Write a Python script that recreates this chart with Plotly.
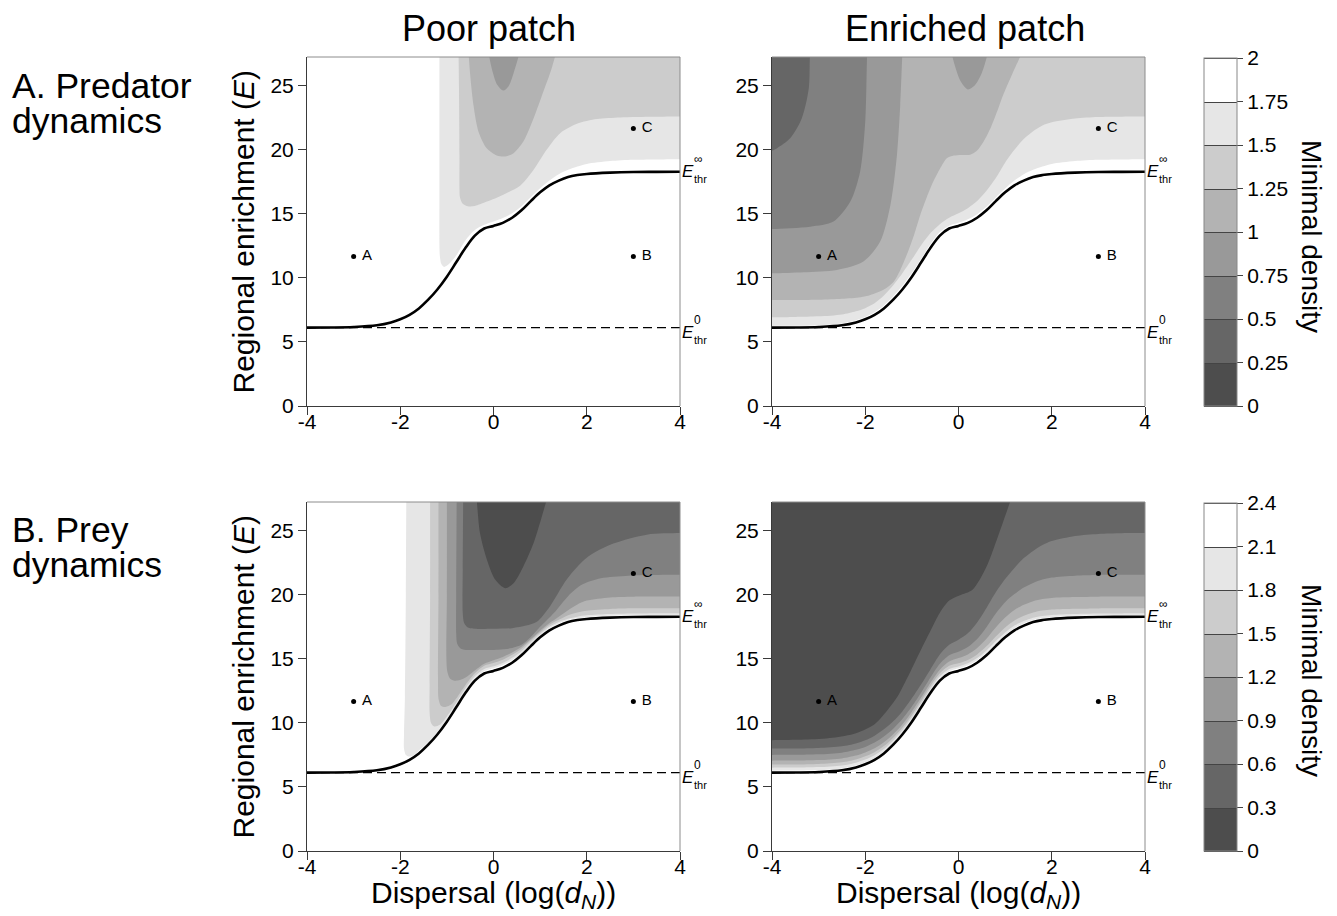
import plotly.graph_objects as go

# ---------------------------------------------------------------- data
X_RANGE = [-4, 4]
Y_RANGE = [0, 27.25]
X_TICKS = [-4, -2, 0, 2, 4]
X_TICKTEXT = ["-4", "-2", "0", "2", "4"]
Y_TICKS = [0, 5, 10, 15, 20, 25]

E_THR_0 = 6.12
E_THR_INF = 18.29

THR_X = [-4.0, -3.5, -3.0, -2.5, -2.2, -2.0, -1.8, -1.6, -1.4, -1.2, -1.0, -0.8, -0.6, -0.4, -0.2,
         0.0, 0.2, 0.4, 0.6, 0.8, 1.0, 1.2, 1.4, 1.6, 1.8, 2.0, 2.5, 3.0, 3.5, 4.0]
THR_Y = [6.12, 6.13, 6.17, 6.3, 6.52, 6.77, 7.12, 7.62, 8.3, 9.12, 10.1, 11.22, 12.35, 13.3, 13.86,
         14.06, 14.3, 14.7, 15.28, 16.0, 16.68, 17.23, 17.6, 17.88, 18.03, 18.12, 18.22, 18.27, 18.28, 18.29]

PT_X = [-3, 3, 3]
PT_Y = [11.67, 11.67, 21.67]
PT_LABEL = ["A", "B", "C"]

GRAYS = ["#4d4d4d", "#666666", "#808080", "#999999", "#b3b3b3", "#cccccc", "#e6e6e6", "#ffffff"]

PRED_LEVELS = [0, 0.25, 0.5, 0.75, 1, 1.25, 1.5, 1.75, 2]
PRED_TICKTEXT = ["0", "0.25", "0.5", "0.75", "1", "1.25", "1.5", "1.75", "2"]
PREY_LEVELS = [0, 0.3, 0.6, 0.9, 1.2, 1.5, 1.8, 2.1, 2.4]
PREY_TICKTEXT = ["0", "0.3", "0.6", "0.9", "1.2", "1.5", "1.8", "2.1", "2.4"]

# --- predator, poor patch: boundaries of the regions "density below level"
TL_LT175_X = [-1.16, -1.16, -1.16, -1.16, -1.15, -1.12, -1.06, -0.95, -0.8, -0.6, -0.4, -0.2, 0.0, 0.2, 0.4,
              0.6, 0.8, 1.0, 1.2, 1.4, 1.6, 1.8, 2.0, 2.5, 3.0, 4.0]
TL_LT175_Y = [28.0, 22.0, 16.0, 12.6, 11.7, 11.1, 10.85, 11.1, 11.75, 12.95, 13.75, 14.15, 14.4, 14.68, 15.05,
              15.6, 16.3, 17.0, 17.6, 18.1, 18.45, 18.7, 18.9, 19.12, 19.22, 19.27]
TL_LT150_X = [-0.75, -0.74, -0.73, -0.73, -0.72, -0.66, -0.55, -0.4, -0.14, 0.21, 0.57, 0.86, 1.14, 1.43,
              1.79, 2.22, 2.72, 3.43, 4.0]
TL_LT150_Y = [28.0, 24.8, 19.6, 17.0, 16.3, 15.8, 15.6, 15.62, 15.96, 16.5, 17.19, 18.44, 20.0, 21.3,
              22.03, 22.4, 22.53, 22.58, 22.6]
TL_LT125_X = [-0.54, -0.5, -0.43, -0.32, -0.14, 0.07, 0.25, 0.43, 0.64, 0.86, 1.07, 1.25, 1.36]
TL_LT125_Y = [28.0, 25.86, 23.5, 21.4, 20.1, 19.56, 19.48, 19.74, 20.65, 22.47, 24.56, 26.4, 28.0]
TL_LT100_X = [-0.12, -0.04, 0.08, 0.21, 0.32, 0.43, 0.58]
TL_LT100_Y = [28.0, 26.4, 25.08, 24.63, 24.95, 25.99, 28.0]

# --- predator, enriched patch
TR_LT175_X = THR_X[:-2] + [4.0]
TR_LT175_Y = [6.25, 6.26, 6.31, 6.45, 6.69, 6.95, 7.32, 7.85, 8.56, 9.4, 10.4, 11.5, 12.65, 13.58, 14.08,
              14.3, 14.58, 14.98, 15.55, 16.28, 16.98, 17.6, 18.1, 18.45, 18.7, 18.9, 19.12, 19.22, 19.27]
TR_LT150_X = THR_X[:-2] + [4.0]
TR_LT150_Y = [6.93, 6.95, 7.0, 7.15, 7.4, 7.64, 8.02, 8.62, 9.42, 10.38, 11.45, 12.55, 13.5, 14.2, 14.7,
              15.05, 15.45, 16.0, 16.8, 17.8, 19.0, 20.0, 20.85, 21.45, 21.9, 22.15, 22.45, 22.56, 22.6]
TR_LT125_X = [-4.0, -3.0, -2.5, -2.1, -1.89, -1.6, -1.39, -1.25, -1.11, -0.95, -0.82, -0.68, -0.54, -0.4,
              -0.25, -0.1, 0.05, 0.25, 0.4, 0.54, 0.7, 0.85, 0.96, 1.15, 1.3, 1.45]
TR_LT125_Y = [8.28, 8.3, 8.38, 8.5, 8.67, 9.1, 9.71, 10.6, 11.8, 13.4, 14.92, 16.3, 17.52, 18.5,
              19.35, 19.55, 19.6, 19.62, 19.95, 20.65, 21.8, 23.2, 24.3, 25.9, 27.1, 28.3]
TR_LT100_X = [-1.2, -1.21, -1.25, -1.32, -1.46, -1.68, -2.04, -2.61, -3.32, -4.0]
TR_LT100_Y = [28.0, 27.0, 23.5, 19.6, 15.7, 12.84, 11.28, 10.62, 10.44, 10.36]
TR_LT100V_X = [-0.17, -0.08, 0.04, 0.2, 0.35, 0.5, 0.65]
TR_LT100V_Y = [28.0, 26.6, 25.4, 24.72, 25.05, 26.0, 28.0]
TR_LT075_X = [-1.96, -1.97, -2.0, -2.11, -2.32, -2.68, -3.18, -4.0]
TR_LT075_Y = [28.0, 26.0, 22.21, 18.3, 15.96, 14.4, 14.0, 13.82]
TR_LT050_X = [-3.18, -3.19, -3.21, -3.36, -3.61, -3.89, -4.0]
TR_LT050_Y = [28.0, 27.0, 24.82, 22.47, 20.9, 20.13, 19.95]

# --- prey, poor patch
BL_LT210_X = [-1.87, -1.88, -1.9, -1.92, -1.92, -1.88, -1.8, -1.7, -1.6, -1.4, -1.2, -1.0, -0.8, -0.6, -0.4,
              -0.2, 0.0, 0.2, 0.4, 0.6, 0.8, 1.0, 1.2, 1.4, 1.6, 1.8, 2.0, 2.5, 3.0, 4.0]
BL_LT210_Y = [28.0, 20.0, 12.0, 9.0, 8.0, 7.5, 7.37, 7.5, 7.85, 8.5, 9.32, 10.3, 11.4, 12.52, 13.48,
              14.05, 14.27, 14.52, 14.92, 15.45, 16.17, 16.84, 17.4, 17.76, 18.03, 18.17, 18.26, 18.36, 18.41, 18.43]
BL_LT180_X = [-1.36, -1.36, -1.37, -1.37, -1.34, -1.27, -1.15, -1.0, -0.8, -0.6, -0.4, -0.2, 0.0, 0.2, 0.4,
              0.6, 0.8, 1.0, 1.2, 1.4, 1.6, 1.8, 2.0, 2.5, 3.0, 4.0]
BL_LT180_Y = [28.0, 20.0, 13.0, 10.8, 10.0, 9.72, 9.85, 10.5, 11.57, 12.72, 13.66, 14.22, 14.42, 14.68, 15.08,
              15.6, 16.3, 16.95, 17.5, 17.88, 18.13, 18.3, 18.4, 18.5, 18.54, 18.56]
BL_LT150_X = [-1.18, -1.18, -1.19, -1.18, -1.13, -1.03, -0.9, -0.8, -0.6, -0.4, -0.2, 0.0, 0.2, 0.4, 0.6,
              0.8, 1.0, 1.2, 1.4, 1.6, 1.8, 2.0, 2.5, 3.0, 4.0]
BL_LT150_Y = [28.0, 20.0, 13.0, 11.9, 11.35, 11.25, 11.45, 11.9, 12.97, 13.88, 14.46, 14.67, 14.93, 15.32, 15.8,
              16.45, 17.08, 17.66, 18.05, 18.4, 18.62, 18.76, 18.9, 18.95, 18.96]
BL_LT120_X = [-1.0, -1.0, -1.01, -0.99, -0.93, -0.83, -0.72, -0.6, -0.4, -0.2, 0.0, 0.2, 0.4, 0.6, 0.8,
              1.0, 1.2, 1.4, 1.6, 1.8, 2.0, 2.5, 3.0, 4.0]
BL_LT120_Y = [28.0, 20.0, 15.0, 14.0, 13.45, 13.3, 13.35, 13.55, 14.1, 14.62, 14.9, 15.15, 15.5, 15.95, 16.55,
              17.2, 17.8, 18.3, 18.8, 19.25, 19.55, 19.8, 19.86, 19.87]
BL_LT090_X = [-0.79, -0.8, -0.8, -0.78, -0.7, -0.55, -0.3, 0.1, 0.4, 0.6, 0.8, 1.0, 1.3, 1.6, 1.9, 2.3, 2.9, 4.0]
BL_LT090_Y = [28.0, 20.0, 17.0, 16.2, 15.8, 15.7, 15.7, 15.72, 15.85, 16.1, 16.7, 17.5, 18.6, 19.9, 20.8, 21.3,
              21.5, 21.56]
BL_LT060_X = [-0.65, -0.66, -0.66, -0.63, -0.55, -0.4, 0.0, 0.4, 0.7, 0.93, 1.21, 1.57, 2.0, 2.57, 3.29, 4.0]
BL_LT060_Y = [28.0, 22.0, 18.6, 17.8, 17.45, 17.35, 17.35, 17.4, 17.6, 17.9, 19.1, 21.2, 22.9, 24.0, 24.7, 24.82]
BL_LT030_X = [-0.37, -0.35, -0.29, -0.14, 0.04, 0.25, 0.43, 0.64, 0.86, 1.14, 1.19]
BL_LT030_Y = [28.0, 27.0, 24.82, 22.73, 21.17, 20.52, 20.9, 22.21, 24.04, 27.4, 28.0]

# --- prey, enriched patch (boundaries sampled on the threshold-curve x grid)
BR_GRID_X = THR_X
BR_LT210_Y = [6.27, 6.28, 6.32, 6.45, 6.67, 6.92, 7.27, 7.77, 8.45, 9.27, 10.25, 11.37, 12.5, 13.46, 14.04,
              14.26, 14.50, 14.90, 15.47, 16.19, 16.86, 17.4, 17.76, 18.03, 18.17, 18.26, 18.36, 18.41, 18.42, 18.43]
BR_LT180_Y = [6.50, 6.51, 6.55, 6.68, 6.9, 7.14, 7.48, 7.96, 8.63, 9.44, 10.42, 11.53, 12.67, 13.64, 14.22,
              14.41, 14.66, 15.07, 15.66, 16.39, 17.06, 17.6, 17.95, 18.21, 18.35, 18.43, 18.50, 18.54, 18.55, 18.56]
BR_LT150_Y = [6.75, 6.76, 6.80, 6.93, 7.15, 7.39, 7.72, 8.19, 8.85, 9.64, 10.62, 11.73, 12.88, 13.87, 14.46,
              14.66, 14.92, 15.35, 15.98, 16.75, 17.46, 18.0, 18.36, 18.62, 18.77, 18.85, 18.91, 18.94, 18.95, 18.96]
BR_LT120_Y = [7.05, 7.06, 7.10, 7.23, 7.45, 7.69, 8.02, 8.49, 9.12, 9.9, 10.88, 11.98, 13.14, 14.16, 14.79,
              15.06, 15.35, 15.85, 16.58, 17.45, 18.23, 18.82, 19.22, 19.5, 19.67, 19.76, 19.83, 19.86, 19.87, 19.87]
BR_LT090_Y = [7.50, 7.51, 7.55, 7.68, 7.9, 8.13, 8.47, 8.94, 9.55, 10.32, 11.28, 12.38, 13.55, 14.62, 15.29,
              15.56, 15.92, 16.55, 17.48, 18.55, 19.43, 20.06, 20.57, 20.93, 21.19, 21.35, 21.50, 21.55, 21.56, 21.56]
BR_LT060_Y = [8.00, 8.01, 8.05, 8.18, 8.4, 8.64, 9.0, 9.5, 10.13, 10.92, 11.92, 13.02, 14.2, 15.35, 16.11,
              16.50, 17.00, 17.85, 18.98, 20.20, 21.23, 22.1, 22.87, 23.43, 23.89, 24.20, 24.60, 24.76, 24.81, 24.82]
BR_LT030_X = [-4.0, -3.3, -2.7, -2.2, -1.8, -1.5, -1.3, -1.1, -0.82, -0.6, -0.4, -0.2, 0.02, 0.3, 0.6, 0.85,
              1.11, 1.2]
BR_LT030_Y = [8.65, 8.7, 8.85, 9.2, 9.9, 11.1, 12.1, 13.5, 15.6, 17.2, 18.6, 19.55, 19.95, 20.4, 22.2, 24.6,
              27.3, 28.3]

# ---------------------------------------------------------------- layout constants
W, H = 1337, 916
OFF = 8          # the page body adds an 8 px margin around the figure
FONT = "Liberation Sans, Arial, Helvetica, sans-serif"


def fx(px):
    return (px - OFF) / W


def fy(py):
    return 1 - (py - OFF) / H


PANELS = [
    # name, axis suffix, x px span, y px span (page pixels)
    ("TL", "", (307, 680), (57, 406)),
    ("TR", "2", (772, 1145), (57, 406)),
    ("BL", "3", (307, 680), (502, 851)),
    ("BR", "4", (772, 1145), (502, 851)),
]

REGIONS = {
    "TL": [(6, TL_LT175_X, TL_LT175_Y), (5, TL_LT150_X, TL_LT150_Y),
           (4, TL_LT125_X, TL_LT125_Y), (3, TL_LT100_X, TL_LT100_Y)],
    "TR": [(6, TR_LT175_X, TR_LT175_Y), (5, TR_LT150_X, TR_LT150_Y),
           (4, TR_LT125_X, TR_LT125_Y), (3, TR_LT100_X, TR_LT100_Y),
           (3, TR_LT100V_X, TR_LT100V_Y), (2, TR_LT075_X, TR_LT075_Y),
           (1, TR_LT050_X, TR_LT050_Y)],
    "BL": [(6, BL_LT210_X, BL_LT210_Y), (5, BL_LT180_X, BL_LT180_Y),
           (4, BL_LT150_X, BL_LT150_Y), (3, BL_LT120_X, BL_LT120_Y),
           (2, BL_LT090_X, BL_LT090_Y), (1, BL_LT060_X, BL_LT060_Y),
           (0, BL_LT030_X, BL_LT030_Y)],
    "BR": [(6, BR_GRID_X, BR_LT210_Y), (5, BR_GRID_X, BR_LT180_Y),
           (4, BR_GRID_X, BR_LT150_Y), (3, BR_GRID_X, BR_LT120_Y),
           (2, BR_GRID_X, BR_LT090_Y), (1, BR_GRID_X, BR_LT060_Y),
           (0, BR_LT030_X, BR_LT030_Y)],
}


def closed(xs, ys):
    """Close a boundary curve through points lying outside the visible frame."""
    X, Y = list(xs), list(ys)
    top = 29.5
    if Y[-1] >= 27.5:
        X += [X[-1]]; Y += [top]
    elif X[-1] >= 3.99:
        X += [4.4, 4.8, 4.8]; Y += [Y[-1], Y[-1], top]
    elif X[-1] <= -3.99:
        X += [-4.4, -4.8, -4.8]; Y += [Y[-1], Y[-1], top]
    if Y[0] >= 27.5:
        px, py = [X[0]], [top]
    elif X[0] <= -3.99:
        px, py = [-4.8, -4.8, -4.4], [top, Y[0], Y[0]]
    else:
        px, py = [4.8, 4.8, 4.4], [top, Y[0], Y[0]]
    return px + X, py + Y


fig = go.Figure()

for name, sfx, xs_px, ys_px in PANELS:
    xa, ya = "x" + sfx, "y" + sfx
    for gi, bx, by in REGIONS[name]:
        cx, cy = closed(bx, by)
        fig.add_trace(go.Scatter(
            x=cx, y=cy, xaxis=xa, yaxis=ya, mode="lines", fill="toself",
            fillcolor=GRAYS[gi], line=dict(width=0, shape="spline", smoothing=0.8),
            hoverinfo="skip", showlegend=False))
    # dashed E_thr^0 line
    fig.add_trace(go.Scatter(
        x=X_RANGE, y=[E_THR_0, E_THR_0], xaxis=xa, yaxis=ya, mode="lines",
        line=dict(color="black", width=1.4, dash="9px,5px"), hoverinfo="skip", showlegend=False))
    # threshold curve
    fig.add_trace(go.Scatter(
        x=THR_X, y=THR_Y, xaxis=xa, yaxis=ya, mode="lines",
        line=dict(color="black", width=2.6, shape="spline", smoothing=1.0),
        hoverinfo="skip", showlegend=False))
    # points A, B, C
    fig.add_trace(go.Scatter(
        x=PT_X, y=PT_Y, xaxis=xa, yaxis=ya, mode="markers+text",
        text=["\u00a0" + t for t in PT_LABEL],
        textposition="middle right", textfont=dict(family=FONT, size=15, color="black"),
        marker=dict(color="black", size=5), hoverinfo="skip", showlegend=False))

# colour bars (dummy contour traces kept outside the visible x range)
CB_SCALE = []
for k, c in enumerate(GRAYS):
    lo = 0 if k == 0 else (k + 0.5) / 9
    hi = 1 if k == 7 else (k + 1.5) / 9
    CB_SCALE += [[lo, c], [hi, c]]

for levels, ticktext, sfx, top_px in [(PRED_LEVELS, PRED_TICKTEXT, "2", 58),
                                       (PREY_LEVELS, PREY_TICKTEXT, "4", 503)]:
    step = levels[1] - levels[0]
    fig.add_trace(go.Contour(
        z=[[levels[0], levels[-1]], [levels[0], levels[-1]]], x=[20, 21], y=[1, 2],
        xaxis="x" + sfx, yaxis="y" + sfx,
        contours=dict(start=levels[0], end=levels[-1], size=step, coloring="fill", showlines=True),
        line=dict(color="#444444", width=1),
        colorscale=CB_SCALE, zmin=levels[0], zmax=levels[-1], hoverinfo="skip",
        showscale=True,
        colorbar=dict(
            x=fx(1204), xanchor="left", y=fy(top_px), yanchor="top",
            thickness=33, thicknessmode="pixels", len=348, lenmode="pixels",
            xpad=0, ypad=0, outlinewidth=1, outlinecolor="#888888",
            ticks="outside", ticklen=6, tickcolor="#444444",
            tickvals=levels, ticktext=ticktext,
            tickfont=dict(family=FONT, size=21, color="black"))))

axis_common = dict(showline=True, linecolor="#3a3a3a", linewidth=1, mirror=False,
                   ticks="outside", ticklen=8, tickcolor="#3a3a3a", tickwidth=1,
                   showgrid=False, zeroline=False, automargin=False,
                   tickfont=dict(family=FONT, size=21, color="black"))

layout = dict(width=W, height=H, margin=dict(l=0, r=0, t=0, b=0, pad=0, autoexpand=False),
              paper_bgcolor="white", plot_bgcolor="white", showlegend=False,
              font=dict(family=FONT, color="black"))
shapes = []
for name, sfx, (x0, x1), (y0, y1) in PANELS:
    layout["xaxis" + sfx] = dict(axis_common, domain=[fx(x0), fx(x1)], range=X_RANGE,
                                 tickvals=X_TICKS, ticktext=X_TICKTEXT, anchor="y" + sfx,
                                 ticklabelstandoff=-11)
    layout["yaxis" + sfx] = dict(axis_common, domain=[fy(y1), fy(y0)], range=Y_RANGE,
                                 tickvals=Y_TICKS, anchor="x" + sfx)
    # lighter frame on the top and right sides
    xr, yr = ("x" + sfx) + " domain", ("y" + sfx) + " domain"
    shapes.append(dict(type="line", xref=xr, yref=yr, x0=0, x1=1, y0=1, y1=1,
                       line=dict(color="#8c8c8c", width=1), layer="above"))
    shapes.append(dict(type="line", xref=xr, yref=yr, x0=1, x1=1, y0=0, y1=1,
                       line=dict(color="#8c8c8c", width=1), layer="above"))
layout["shapes"] = shapes

ann = []


def paper_text(text, xp, yp, size, xanchor="center", angle=0):
    ann.append(dict(text=text, x=fx(xp), y=fy(yp), xref="paper", yref="paper",
                    xanchor=xanchor, yanchor="middle", showarrow=False, textangle=angle,
                    font=dict(family=FONT, size=size, color="black")))


paper_text("Poor patch", 489, 28, 36)
paper_text("Enriched patch", 965, 28, 36)
paper_text("A. Predator", 10, 86, 35.5, "left")
paper_text("dynamics", 10, 121, 35.5, "left")
paper_text("B. Prey", 10, 530, 35.5, "left")
paper_text("dynamics", 10, 565, 35.5, "left")
paper_text("Regional enrichment (<i>E</i>)", 243, 231.5, 30, angle=-90)
paper_text("Regional enrichment (<i>E</i>)", 243, 676.5, 30, angle=-90)
paper_text("Dispersal (log(<i>d</i><sub><i>N</i></sub>))", 493.5, 894, 30)
paper_text("Dispersal (log(<i>d</i><sub><i>N</i></sub>))", 958.5, 894, 30)
paper_text("Minimal density", 1312, 236, 28, angle=90)
paper_text("Minimal density", 1312, 680, 28, angle=90)

for name, sfx, _, _ in PANELS:
    for yv, sup, dy in [(E_THR_INF, "\u221e", 0), (E_THR_0, "0", -5)]:
        for text, size, xs, ys in [("<i>E</i>", 17, 0, dy), (sup, 12, 12, dy + 13), ("thr", 11, 12, dy - 7)]:
            ann.append(dict(text=text, x=X_RANGE[1], y=yv, xref="x" + sfx, yref="y" + sfx,
                            xanchor="left", yanchor="middle", xshift=xs, yshift=ys,
                            showarrow=False, font=dict(family=FONT, size=size, color="black")))

layout["annotations"] = ann
fig.update_layout(**layout)
fig.write_html("out.html")
